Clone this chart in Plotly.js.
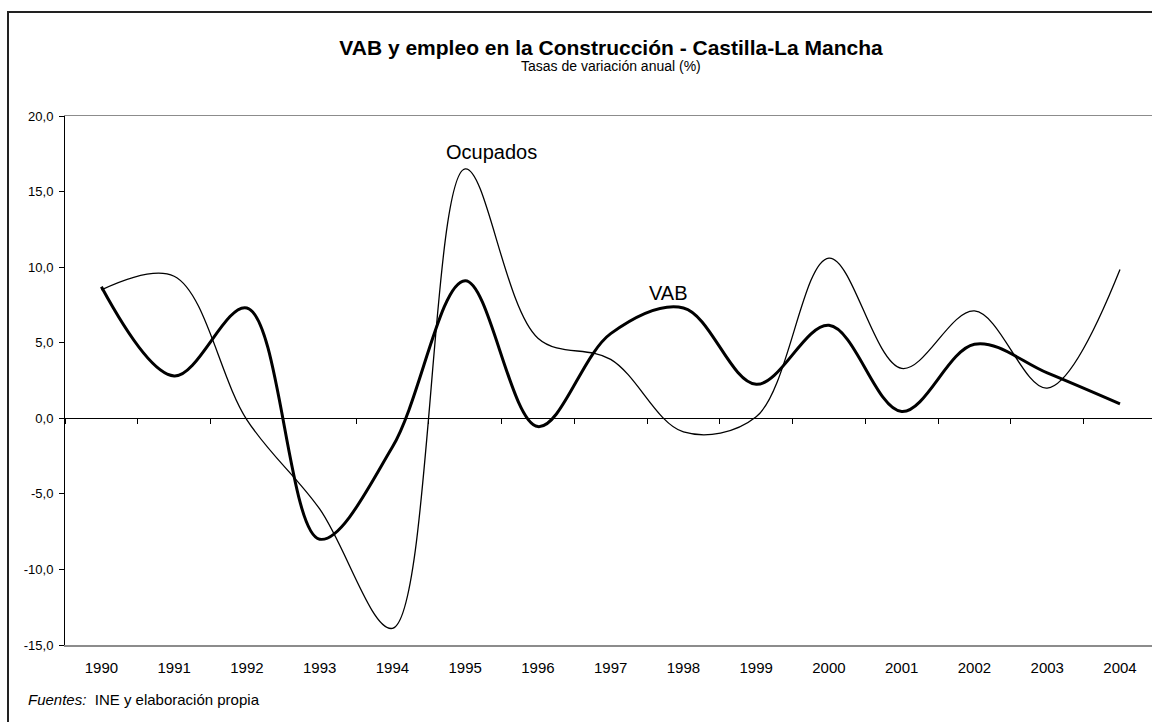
<!DOCTYPE html>
<html>
<head>
<meta charset="utf-8">
<script src="https://cdn.plot.ly/plotly-3.0.1.min.js"></script>
<style>
  html, body { margin: 0; padding: 0; background: #fff; }
  #chart { width: 1152px; height: 722px; }
</style>
</head>
<body>
<div id="chart"></div>
<script>
// ---- data ----
const years = ['1990','1991','1992','1993','1994','1995','1996','1997','1998','1999','2000','2001','2002','2003','2004'];
const vab = [8.7, 2.8, 7.3, -8.0, -1.9, 9.1, -0.55, 5.6, 7.3, 2.25, 6.15, 0.45, 4.9, 3.0, 0.95];
const ocupados = [8.5, 9.4, -0.1, -6.0, -13.9, 16.5, 5.3, 3.9, -0.9, 0.1, 10.6, 3.3, 7.1, 2.0, 9.85];
const yTickVals = [-15, -10, -5, 0, 5, 10, 15, 20];
const yTickText = ['-15,0', '-10,0', '-5,0', '0,0', '5,0', '10,0', '15,0', '20,0'];

const FONT = 'Liberation Sans, Arial, Helvetica, sans-serif';

const traces = [
  {
    x: years, y: ocupados, name: 'Ocupados', type: 'scatter', mode: 'lines',
    line: { color: '#000', width: 1.3, shape: 'spline', smoothing: 1 },
    xaxis: 'x', yaxis: 'y', hoverinfo: 'skip'
  },
  {
    x: years, y: vab, name: 'VAB', type: 'scatter', mode: 'lines',
    line: { color: '#000', width: 3, shape: 'spline', smoothing: 1 },
    xaxis: 'x2', yaxis: 'y', hoverinfo: 'skip'
  }
];

const xRange = [-0.5, 14.44];

const layout = {
  width: 1152, height: 722,
  margin: { l: 65, r: 0, t: 116, b: 77 },
  paper_bgcolor: '#fff', plot_bgcolor: '#fff',
  showlegend: false,
  font: { family: FONT, color: '#000' },
  title: {
    text: '<b>VAB y empleo en la Construcción - Castilla-La Mancha</b>',
    font: { family: FONT, size: 21, color: '#000' },
    xref: 'container', x: 0.5304, xanchor: 'center',
    yref: 'container', y: 1 - 48 / 722, yanchor: 'middle'
  },
  xaxis: {
    type: 'category', categoryorder: 'array', categoryarray: years,
    range: xRange, fixedrange: true,
    showline: true, linecolor: '#8c8c8c', linewidth: 1.5, mirror: true,
    ticks: '', showgrid: false, zeroline: false,
    tickfont: { family: FONT, size: 15, color: '#000' },
    ticklabelstandoff: 8
  },
  xaxis2: {
    type: 'category', categoryorder: 'array', categoryarray: years,
    range: xRange, fixedrange: true,
    overlaying: 'x', anchor: 'free', position: 15 / 35,
    showline: true, linecolor: '#000', linewidth: 1,
    ticks: 'outside', ticklen: 5, tickcolor: '#000', tickwidth: 1,
    tickson: 'boundaries',
    showticklabels: false, showgrid: false, zeroline: false
  },
  yaxis: {
    range: [-15, 20], fixedrange: true,
    tickvals: yTickVals, ticktext: yTickText,
    showline: true, linecolor: '#000', linewidth: 1,
    ticks: 'outside', ticklen: 5, tickcolor: '#000', tickwidth: 1,
    showgrid: false, zeroline: false,
    tickfont: { family: FONT, size: 13, color: '#000' },
    ticklabelstandoff: 3
  },
  shapes: [
    {
      type: 'rect', xref: 'paper', yref: 'paper',
      x0: (8 - 65) / 1087, x1: 1.1, y0: -0.3, y1: 1 + (116 - 12) / 529,
      line: { color: '#222', width: 2 }, fillcolor: 'rgba(0,0,0,0)', layer: 'below'
    }
  ],
  annotations: [
    {
      text: 'Tasas de variación anual (%)', showarrow: false,
      xref: 'paper', yref: 'paper', x: (611 - 65) / 1087, y: 1 + (116 - 66) / 529,
      xanchor: 'center', yanchor: 'middle',
      font: { family: FONT, size: 14, color: '#000' }
    },
    {
      text: 'Ocupados', showarrow: false, xref: 'x', yref: 'y',
      x: 5.36, y: 17.65, xanchor: 'center', yanchor: 'middle',
      font: { family: FONT, size: 20, color: '#000' }
    },
    {
      text: 'VAB', showarrow: false, xref: 'x', yref: 'y',
      x: 7.79, y: 8.32, xanchor: 'center', yanchor: 'middle',
      font: { family: FONT, size: 20, color: '#000' }
    },
    {
      text: '<i>Fuentes:</i>  INE y elaboración propia', showarrow: false,
      xref: 'paper', yref: 'paper', x: (26 - 65) / 1087, y: (645 - 699) / 529,
      xanchor: 'left', yanchor: 'middle',
      font: { family: FONT, size: 15, color: '#000' }
    }
  ]
};

Plotly.newPlot('chart', traces, layout, { displayModeBar: false, staticPlot: true });
</script>
</body>
</html>
